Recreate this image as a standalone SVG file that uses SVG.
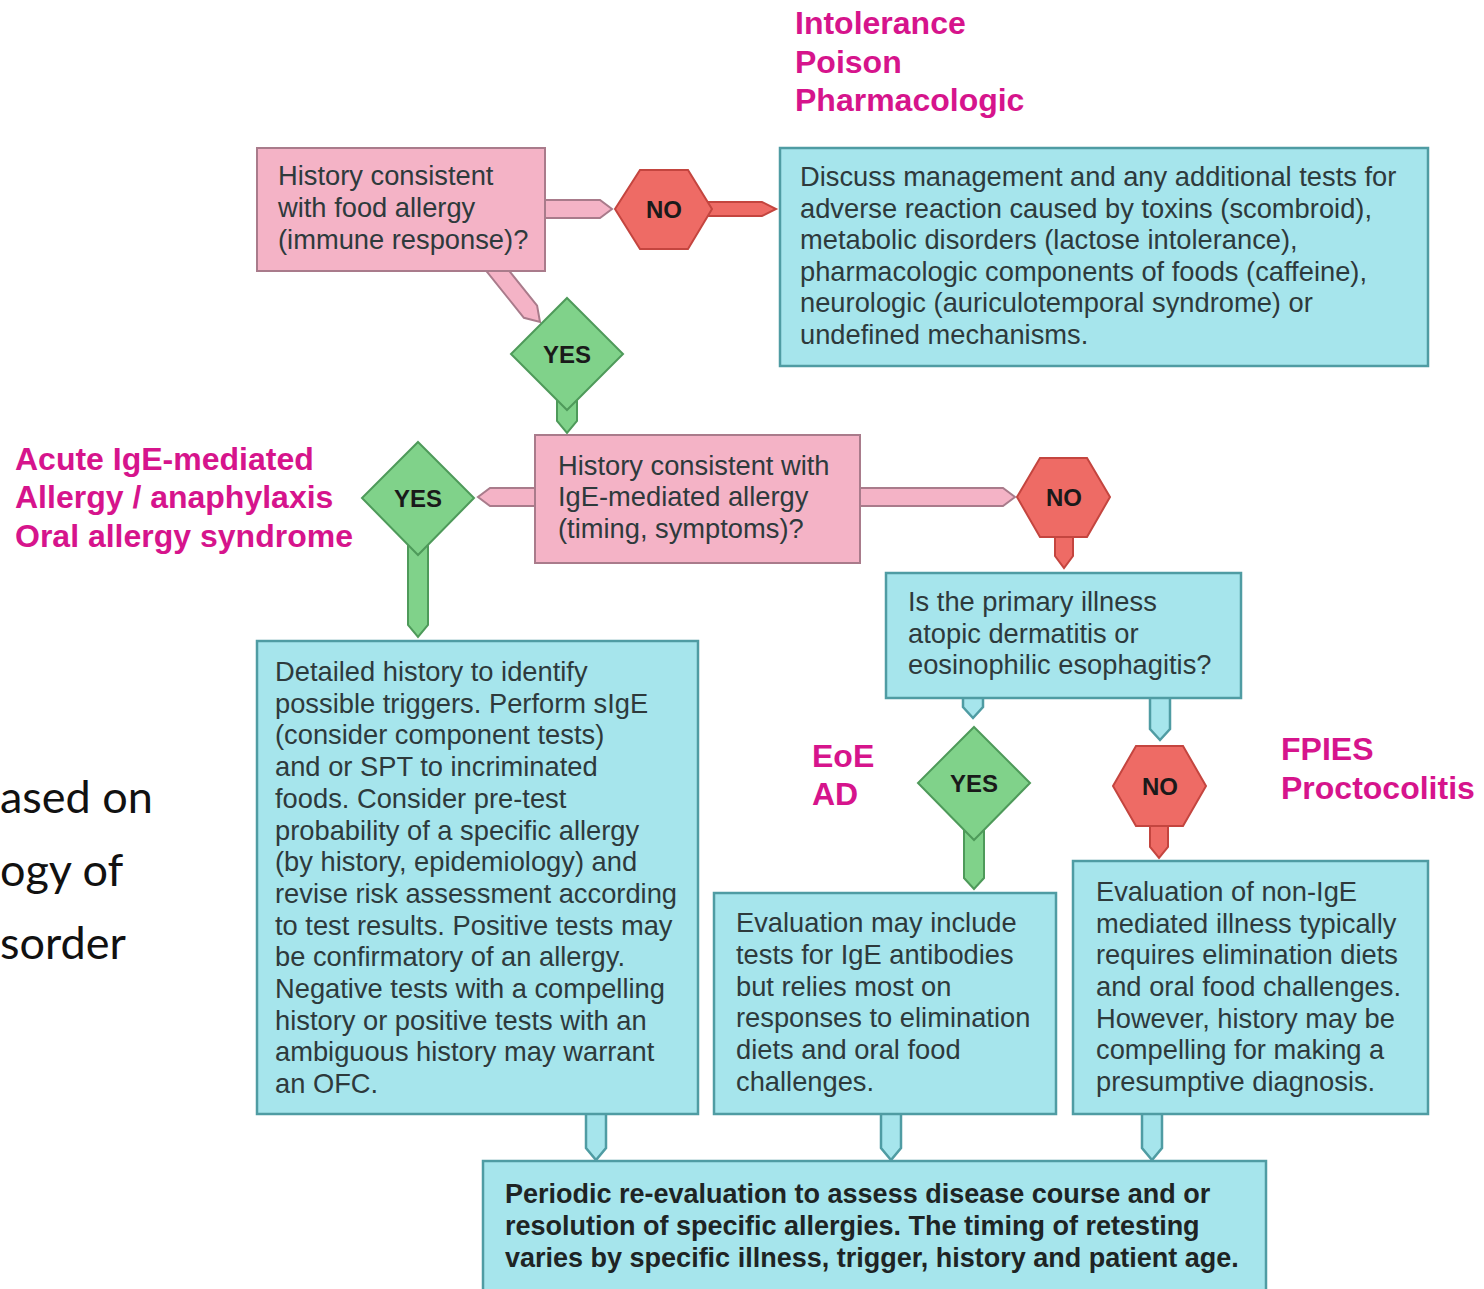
<svg xmlns="http://www.w3.org/2000/svg" width="1484" height="1289" viewBox="0 0 1484 1289">
<style>
.pink{fill:#f4b3c6;stroke:#a97b8b;stroke-width:2}
.cyan{fill:#a6e5ec;stroke:#4f9ca3;stroke-width:2.5}
.green{fill:#80d28a;stroke:#4e9a5a;stroke-width:2}
.red{fill:#ee6b65;stroke:#c4453f;stroke-width:2}
.t{font-family:"Liberation Sans",Arial,sans-serif;font-size:27.3px;fill:#2e3a3c}
.tb{font-family:"Liberation Sans",Arial,sans-serif;font-size:27px;font-weight:bold;fill:#1e2424}
.badge{font-family:"Liberation Sans",Arial,sans-serif;font-size:24px;font-weight:bold;fill:#1a1a1a;text-anchor:middle}
.mag{font-family:"Liberation Sans",Arial,sans-serif;font-size:32px;font-weight:bold;fill:#d6148c}
.side{font-family:Lato,"Liberation Sans",sans-serif;font-size:45px;fill:#111}
</style>
<rect width="1484" height="1289" fill="#ffffff"/>

<g id="side-text">
<text class="side" x="0" y="813">ased on</text>
<text class="side" x="0" y="886">ogy of</text>
<text class="side" x="0" y="959">sorder</text>
</g>

<g id="labels">
<text class="mag" x="795" y="34">Intolerance</text>
<text class="mag" x="795" y="73">Poison</text>
<text class="mag" x="795" y="111">Pharmacologic</text>
<text class="mag" x="15" y="470">Acute IgE-mediated</text>
<text class="mag" x="15" y="508">Allergy / anaphylaxis</text>
<text class="mag" x="15" y="547">Oral allergy syndrome</text>
<text class="mag" x="812" y="767">EoE</text>
<text class="mag" x="812" y="805">AD</text>
<text class="mag" x="1281" y="760">FPIES</text>
<text class="mag" x="1281" y="799">Proctocolitis</text>
</g>

<g id="connectors">
<polygon class="pink" points="540,200 600,200 612,209 600,218 540,218"/>
<polygon class="pink" points="491.6,248.9 537.1,305.6 540,322 523.9,317.8 478.4,261.1"/>
<polygon class="red" points="705,202 762,202 776,209 762,216 705,216"/>
<polygon class="green" points="557,400 577,400 577,421 567,433 557,421"/>
<polygon class="pink" points="540,488 490,488 478,497 490,506 540,506"/>
<polygon class="pink" points="855,488 1003,488 1015,497 1003,506 855,506"/>
<polygon class="green" points="408,545 428,545 428,625 418,637 408,625"/>
<polygon class="red" points="1055,530 1073,530 1073,556 1064,568 1055,556"/>
<polygon class="cyan" points="963,690 983,690 983,707 973,718 963,707"/>
<polygon class="cyan" points="1150,690 1170,690 1170,729 1160,740 1150,729"/>
<polygon class="green" points="964,830 984,830 984,878 974,889 964,878"/>
<polygon class="red" points="1150,820 1168,820 1168,847 1159,858 1150,847"/>
<polygon class="cyan" points="586,1105 606,1105 606,1148 596,1160 586,1148"/>
<polygon class="cyan" points="881,1105 901,1105 901,1148 891,1160 881,1148"/>
<polygon class="cyan" points="1142,1105 1162,1105 1162,1148 1152,1160 1142,1148"/>
</g>

<g id="q-food-allergy">
<rect class="pink" x="257" y="148" width="288" height="123"/>
<text class="t" x="278" y="185">History consistent</text>
<text class="t" x="278" y="217">with food allergy</text>
<text class="t" x="278" y="249">(immune response)?</text>
</g>

<g id="no-1">
<polygon class="red" points="640,170 688,170 712,209 688,249 640,249 615,209"/>
<text class="badge" x="664" y="218">NO</text>
</g>

<g id="discuss-management">
<rect class="cyan" x="780" y="148" width="648" height="218"/>
<text class="t" x="800" y="186">Discuss management and any additional tests for</text>
<text class="t" x="800" y="217.5">adverse reaction caused by toxins (scombroid),</text>
<text class="t" x="800" y="249">metabolic disorders (lactose intolerance),</text>
<text class="t" x="800" y="280.5">pharmacologic components of foods (caffeine),</text>
<text class="t" x="800" y="312">neurologic (auriculotemporal syndrome) or</text>
<text class="t" x="800" y="343.5">undefined mechanisms.</text>
</g>

<g id="yes-1">
<polygon class="green" points="567,298 623,354 567,410 511,354"/>
<text class="badge" x="567" y="363">YES</text>
</g>

<g id="q-ige-mediated">
<rect class="pink" x="535" y="435" width="325" height="128"/>
<text class="t" x="558" y="475">History consistent with</text>
<text class="t" x="558" y="506">IgE-mediated allergy</text>
<text class="t" x="558" y="538">(timing, symptoms)?</text>
</g>

<g id="yes-2">
<polygon class="green" points="418,442 474,498 418,555 362,498"/>
<text class="badge" x="418" y="507">YES</text>
</g>

<g id="no-2">
<polygon class="red" points="1040,458 1087,458 1110,497 1087,537 1040,537 1017,497"/>
<text class="badge" x="1064" y="506">NO</text>
</g>

<g id="q-primary-illness">
<rect class="cyan" x="886" y="573" width="355" height="125"/>
<text class="t" x="908" y="611">Is the primary illness</text>
<text class="t" x="908" y="643">atopic dermatitis or</text>
<text class="t" x="908" y="674">eosinophilic esophagitis?</text>
</g>

<g id="yes-3">
<polygon class="green" points="974,727 1030,783 974,840 918,783"/>
<text class="badge" x="974" y="792">YES</text>
</g>

<g id="no-3">
<polygon class="red" points="1136,746 1183,746 1206,786 1183,826 1136,826 1113,786"/>
<text class="badge" x="1160" y="795">NO</text>
</g>

<g id="detailed-history">
<rect class="cyan" x="257" y="641" width="441" height="473"/>
<text class="t" x="275" y="681">Detailed history to identify</text>
<text class="t" x="275" y="712.7">possible triggers. Perform sIgE</text>
<text class="t" x="275" y="744.4">(consider component tests)</text>
<text class="t" x="275" y="776.1">and or SPT to incriminated</text>
<text class="t" x="275" y="807.8">foods.  Consider pre-test</text>
<text class="t" x="275" y="839.5">probability of a specific allergy</text>
<text class="t" x="275" y="871.2">(by history, epidemiology) and</text>
<text class="t" x="275" y="902.9">revise risk assessment according</text>
<text class="t" x="275" y="934.6">to test results.  Positive tests may</text>
<text class="t" x="275" y="966.3">be confirmatory of an allergy.</text>
<text class="t" x="275" y="998">Negative tests with a compelling</text>
<text class="t" x="275" y="1029.7">history or positive tests with an</text>
<text class="t" x="275" y="1061.4">ambiguous history may warrant</text>
<text class="t" x="275" y="1093.1">an OFC.</text>
</g>

<g id="evaluation-ige">
<rect class="cyan" x="714" y="893" width="342" height="221"/>
<text class="t" x="736" y="932">Evaluation may include</text>
<text class="t" x="736" y="963.8">tests for IgE antibodies</text>
<text class="t" x="736" y="995.6">but relies most on</text>
<text class="t" x="736" y="1027.4">responses to elimination</text>
<text class="t" x="736" y="1059.2">diets and oral food</text>
<text class="t" x="736" y="1091">challenges.</text>
</g>

<g id="evaluation-non-ige">
<rect class="cyan" x="1073" y="861" width="355" height="253"/>
<text class="t" x="1096" y="901">Evaluation of non-IgE</text>
<text class="t" x="1096" y="932.7">mediated illness typically</text>
<text class="t" x="1096" y="964.3">requires elimination diets</text>
<text class="t" x="1096" y="996">and oral food challenges.</text>
<text class="t" x="1096" y="1027.7">However, history may be</text>
<text class="t" x="1096" y="1059.3">compelling for making a</text>
<text class="t" x="1096" y="1091">presumptive diagnosis.</text>
</g>

<g id="periodic-re-evaluation">
<rect class="cyan" x="483" y="1161" width="783" height="130"/>
<text class="tb" x="505" y="1203">Periodic re-evaluation to assess disease course and or</text>
<text class="tb" x="505" y="1235">resolution of specific allergies. The timing of retesting</text>
<text class="tb" x="505" y="1267">varies by specific illness, trigger, history and patient age.</text>
</g>
</svg>
